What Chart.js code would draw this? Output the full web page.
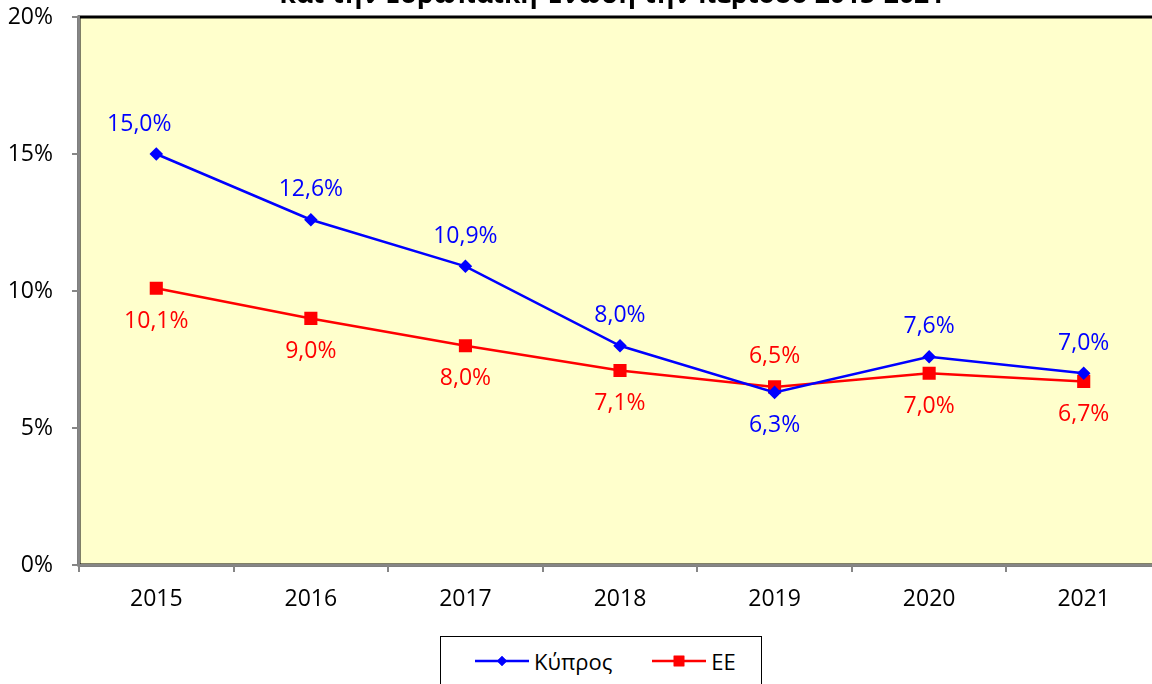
<!DOCTYPE html>
<html>
<head>
<meta charset="utf-8">
<script src="https://cdn.jsdelivr.net/npm/chart.js@4.4.1/dist/chart.umd.min.js"></script>
<style>
  html, body { margin: 0; padding: 0; width: 1152px; height: 684px; overflow: hidden; background: #fff; }
  #myChart { position: absolute; left: 0; top: 0; width: 1171px; height: 684px; }
  #title { position: absolute; left: 0; top: -21px; width: 1224px; text-align: center;
           font: bold 26.5px "Open Sans", sans-serif; line-height: 28px; color: #000; white-space: nowrap; }
  #legend { position: absolute; left: 440px; top: 636px; width: 322px; height: 70px;
            border: 1px solid #000; background: #fff; box-sizing: border-box;
            display: flex; align-items: flex-start; padding: 12px 0 0 34px;
            font: 22px "Open Sans", sans-serif; color: #000; }
  .item { display: flex; align-items: center; height: 24px; margin-right: 40px; }
  .item canvas { margin-right: 5px; }
</style>
</head>
<body>
<canvas id="myChart" width="1171" height="684"></canvas>
<div id="title">και την Ευρωπαϊκή Ένωση την περίοδο 2015-2021</div>
<div id="legend"></div>
<script>
var years = ["2015", "2016", "2017", "2018", "2019", "2020", "2021"];
var cyprus = [15.0, 12.6, 10.9, 8.0, 6.3, 7.6, 7.0];
var eu = [10.1, 9.0, 8.0, 7.1, 6.5, 7.0, 6.7];
var yTicks = [0, 5, 10, 15, 20];

var fontFam = '"Open Sans", sans-serif';

// plot background + black frame
var plotBg = {
  id: "plotBg",
  beforeDraw(chart) {
    var a = chart.chartArea, c = chart.ctx;
    c.save();
    c.fillStyle = "#FFFFCC";
    c.fillRect(a.left, a.top, a.right - a.left, a.bottom - a.top);
    c.strokeStyle = "#000";
    c.lineWidth = 3;
    c.strokeRect(a.left, a.top, a.right - a.left, a.bottom - a.top);
    c.restore();
  }
};

// value labels, drawn next to each point
var valueLabels = {
  id: "valueLabels",
  afterDatasetsDraw(chart) {
    var c = chart.ctx;
    chart.data.datasets.forEach((ds, i) => {
      var meta = chart.getDatasetMeta(i);
      c.save();
      c.font = "23px " + fontFam;
      c.fillStyle = ds.borderColor;
      c.textAlign = "center";
      c.textBaseline = "middle";
      meta.data.forEach((pt, j) => {
        var dy = ds.labelPos[j] == "above" ? -30 : 33;
        var dx = (ds.labelDx && ds.labelDx[j]) || 0;
        var txt = ds.data[j].toFixed(1).replace(".", ",") + "%";
        c.fillText(txt, pt.x + dx, pt.y + dy);
      });
      c.restore();
    });
  }
};

var ctx = document.getElementById("myChart").getContext("2d");
var myChart = new Chart(ctx, {
  type: "line",
  plugins: [plotBg, valueLabels],
  data: {
    labels: years,
    datasets: [{
        label: "Κύπρος",
        data: cyprus,
        borderColor: "#0000FF",
        backgroundColor: "#0000FF",
        borderWidth: 2.5,
        pointStyle: "rectRot",
        pointRadius: 5,
        labelPos: ["above", "above", "above", "above", "below", "above", "above"],
        labelDx: [-17, 0, 0, 0, 0, 0, 0]
      },
      {
        label: "ΕΕ",
        data: eu,
        borderColor: "#FF0000",
        backgroundColor: "#FF0000",
        borderWidth: 2.5,
        pointStyle: "rect",
        pointRadius: 7.5,
        labelPos: ["below", "below", "below", "below", "above", "below", "below"]
      }
    ]
  },
  options: {
    responsive: false,
    animation: false,
    devicePixelRatio: 1,
    layout: { padding: { top: 17, bottom: 59, left: 0, right: 1 } },
    plugins: {
      legend: { display: false },
      title: { display: false },
      tooltip: { enabled: false }
    },
    scales: {
      x: {
        offset: true,
        grid: { offset: true, drawOnChartArea: false, color: "#868686", lineWidth: 2, tickLength: 7 },
        border: { color: "#868686", width: 2 },
        ticks: { color: "#000", font: { family: fontFam, size: 23 }, padding: 14, maxRotation: 0 },
        afterFit(s) { s.height = 60; s.paddingLeft = 0; s.paddingRight = 0; }
      },
      y: {
        min: 0,
        max: 20,
        afterBuildTicks(s) { s.ticks = yTicks.map(v => ({ value: v })); },
        grid: { drawOnChartArea: false, color: "#868686", lineWidth: 2, tickLength: 7 },
        border: { color: "#868686", width: 2 },
        ticks: {
          color: "#000",
          font: { family: fontFam, size: 23 },
          padding: 19,
          callback: v => v + "%"
        },
        afterFit(s) { s.width = 79; s.paddingTop = 0; s.paddingBottom = 0; }
      }
    }
  }
});

// html legend: line + marker, then the name
var legend = document.getElementById("legend");
myChart.data.datasets.forEach(ds => {
  var item = document.createElement("div");
  item.className = "item";
  var cv = document.createElement("canvas");
  cv.width = 54; cv.height = 24;
  var g = cv.getContext("2d");
  g.strokeStyle = ds.borderColor;
  g.lineWidth = 2.5;
  g.beginPath(); g.moveTo(0, 12); g.lineTo(54, 12); g.stroke();
  g.fillStyle = ds.backgroundColor;
  Chart.helpers.drawPoint(g, { pointStyle: ds.pointStyle, radius: ds.pointRadius, borderWidth: 0 }, 27, 12);
  g.fill();
  item.appendChild(cv);
  var sp = document.createElement("span");
  sp.textContent = ds.label;
  item.appendChild(sp);
  legend.appendChild(item);
});
</script>
</body>
</html>
